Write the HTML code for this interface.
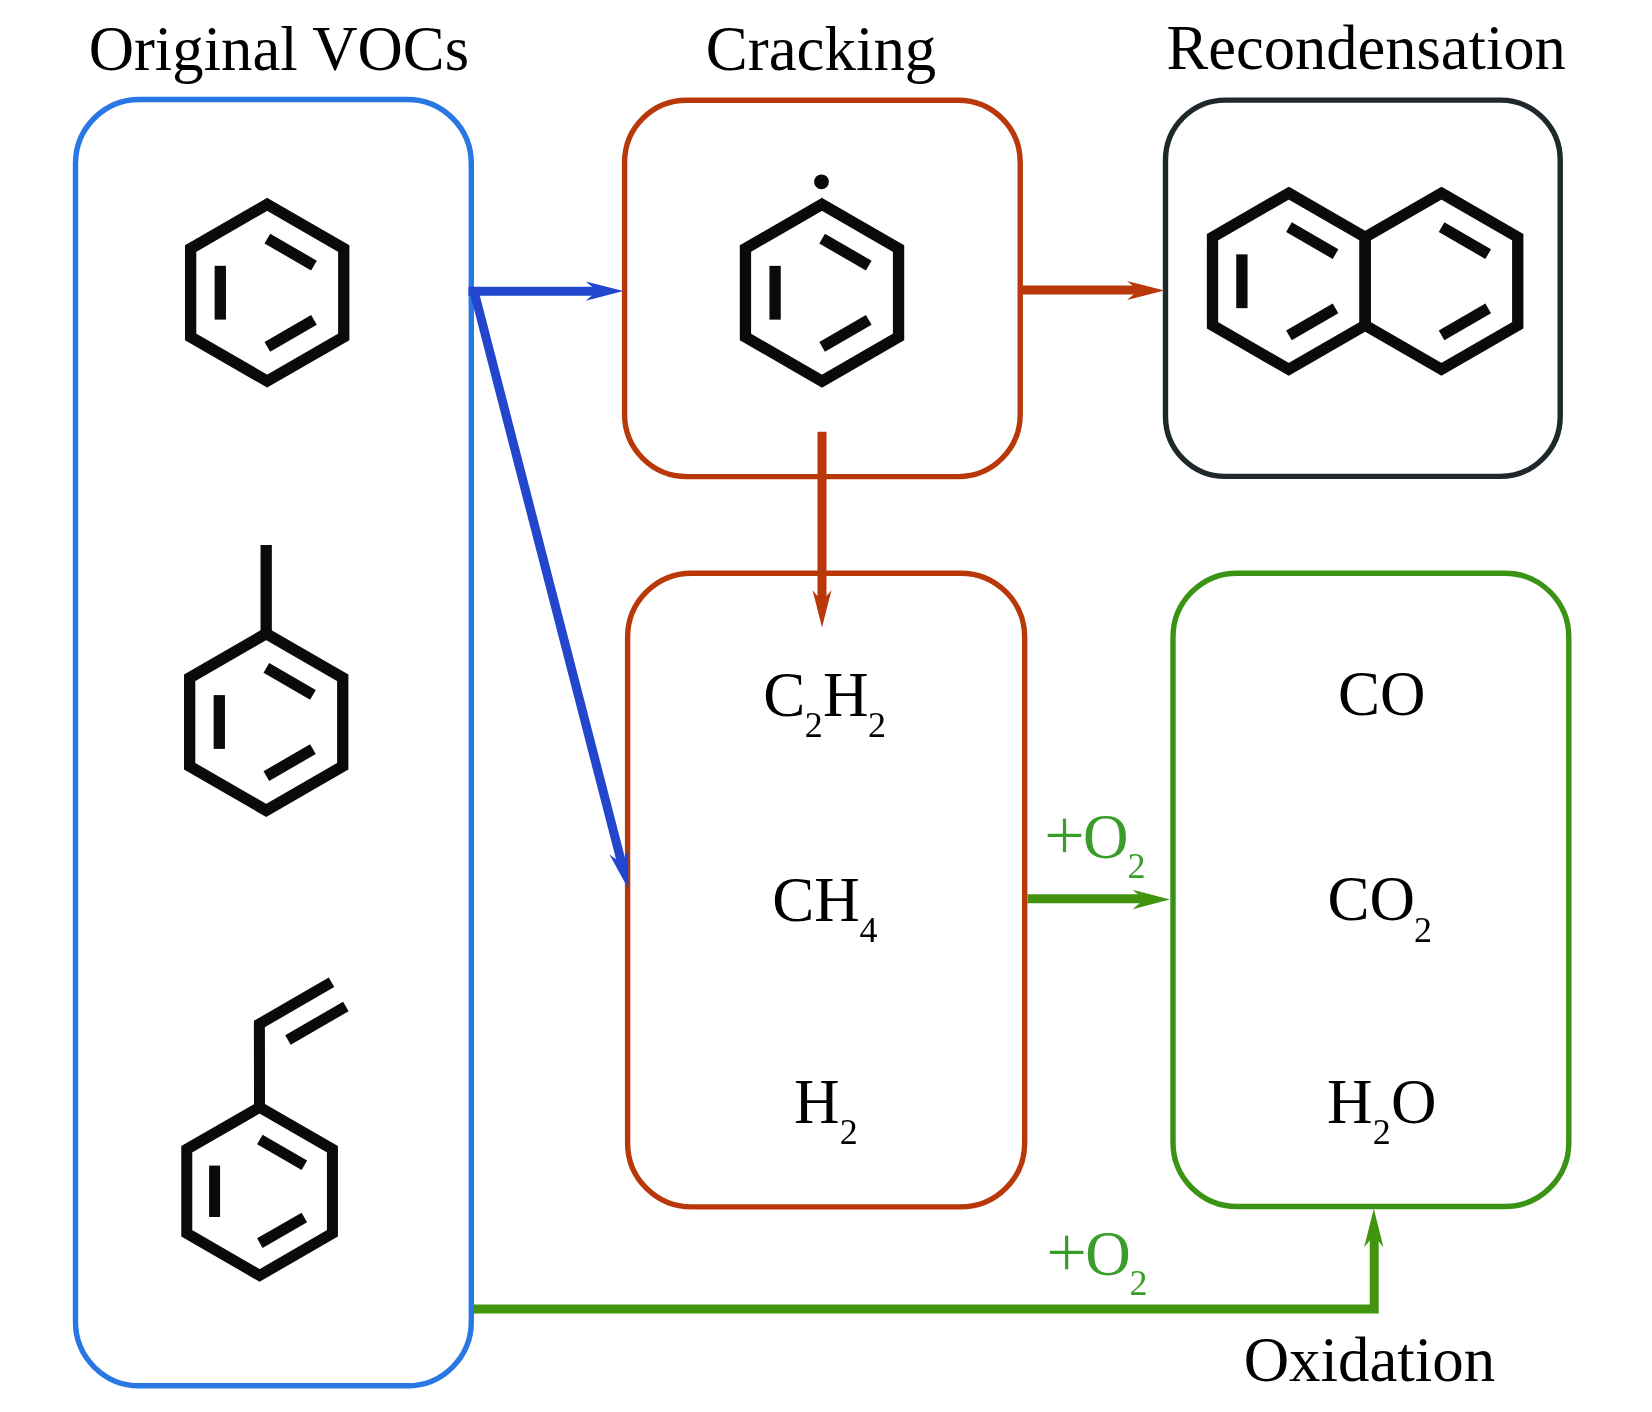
<!DOCTYPE html>
<html><head><meta charset="utf-8"><style>
html,body{margin:0;padding:0;background:#fff;width:1652px;height:1412px;overflow:hidden}
svg{display:block}
text{will-change:transform}
</style></head><body>
<svg width="1652" height="1412" viewBox="0 0 1652 1412">
<rect width="1652" height="1412" fill="#fff"/>
<rect x="75.5" y="99.5" width="395.8" height="1286.3" rx="64" ry="64" fill="none" stroke="#2877e3" stroke-width="5.4"/>
<rect x="624.6" y="100.2" width="395.6" height="376.4" rx="62" ry="62" fill="none" stroke="#b8380a" stroke-width="5.4"/>
<rect x="1165.5" y="100.1" width="394.7" height="376.3" rx="60" ry="60" fill="none" stroke="#1f292c" stroke-width="5.4"/>
<rect x="627.6" y="573.2" width="397.1" height="633.7" rx="64" ry="64" fill="none" stroke="#b8380a" stroke-width="5.4"/>
<rect x="1173" y="573.2" width="395.8" height="633.3" rx="64" ry="64" fill="none" stroke="#3a9314" stroke-width="5.4"/>
<line x1="468.5" y1="291.2" x2="605" y2="291.2" stroke="#2346cf" stroke-width="9.0"/>
<polygon points="623.5,291.1 585.7,300.8 597.2,291.1 585.7,281.4" fill="#2346cf"/>
<line x1="473.5" y1="289" x2="623.3" y2="869.43" stroke="#2346cf" stroke-width="9.0"/>
<polygon points="628.3,888.8 609.46,854.62 621.73,863.33 628.25,849.78" fill="#2346cf"/>
<line x1="1020" y1="290" x2="1145" y2="290" stroke="#b8380a" stroke-width="9.0"/>
<polygon points="1164.5,290.5 1127,300 1138.5,290.5 1127,281" fill="#b8380a"/>
<line x1="822" y1="431.7" x2="822" y2="607" stroke="#b8380a" stroke-width="9.0"/>
<polygon points="822,627.5 812.5,590 822,601.5 831.5,590" fill="#b8380a"/>
<line x1="1027.5" y1="898.8" x2="1150" y2="898.8" stroke="#42940e" stroke-width="9.0"/>
<polygon points="1170,899.5 1132.5,909.2 1144,899.5 1132.5,889.8" fill="#42940e"/>
<polyline points="473.8,1309 1374.2,1309 1374.2,1230" fill="none" stroke="#42940e" stroke-width="9.0" stroke-linejoin="miter"/>
<polygon points="1373.8,1208.8 1383.5,1247.3 1373.8,1235.8 1364.1,1247.3" fill="#42940e"/>
<polygon points="267.2,204.3 343.76,248.5 343.76,336.9 267.2,381.1 190.64,336.9 190.64,248.5" fill="none" stroke="#0a0a0a" stroke-width="11.3" stroke-linejoin="miter"/><line x1="220.3" y1="265.8" x2="220.3" y2="319.6" stroke="#0a0a0a" stroke-width="11.3" stroke-linecap="butt"/><line x1="313.95" y1="265.53" x2="267.35" y2="238.63" stroke="#0a0a0a" stroke-width="11.3" stroke-linecap="butt"/><line x1="267.35" y1="346.77" x2="313.95" y2="319.87" stroke="#0a0a0a" stroke-width="11.3" stroke-linecap="butt"/>
<polygon points="822,204.35 898.56,248.55 898.56,336.95 822,381.15 745.44,336.95 745.44,248.55" fill="none" stroke="#0a0a0a" stroke-width="11.3" stroke-linejoin="miter"/><line x1="775.1" y1="265.85" x2="775.1" y2="319.65" stroke="#0a0a0a" stroke-width="11.3" stroke-linecap="butt"/><line x1="868.75" y1="265.58" x2="822.15" y2="238.68" stroke="#0a0a0a" stroke-width="11.3" stroke-linecap="butt"/><line x1="822.15" y1="346.82" x2="868.75" y2="319.92" stroke="#0a0a0a" stroke-width="11.3" stroke-linecap="butt"/>
<circle cx="821.5" cy="181.8" r="7.4" fill="#0a0a0a"/>
<polygon points="266.2,633.6 342.76,677.8 342.76,766.2 266.2,810.4 189.64,766.2 189.64,677.8" fill="none" stroke="#0a0a0a" stroke-width="11.3" stroke-linejoin="miter"/><line x1="219.3" y1="695.1" x2="219.3" y2="748.9" stroke="#0a0a0a" stroke-width="11.3" stroke-linecap="butt"/><line x1="312.95" y1="694.83" x2="266.35" y2="667.93" stroke="#0a0a0a" stroke-width="11.3" stroke-linecap="butt"/><line x1="266.35" y1="776.07" x2="312.95" y2="749.17" stroke="#0a0a0a" stroke-width="11.3" stroke-linecap="butt"/>
<line x1="266.2" y1="633.6" x2="266.2" y2="544.9" stroke="#0a0a0a" stroke-width="11.3"/>
<polygon points="259.6,1107.2 332.43,1149.25 332.43,1233.35 259.6,1275.4 186.77,1233.35 186.77,1149.25" fill="none" stroke="#0a0a0a" stroke-width="11" stroke-linejoin="miter"/><line x1="214.6" y1="1165.6" x2="214.6" y2="1217" stroke="#0a0a0a" stroke-width="11" stroke-linecap="butt"/><line x1="304.36" y1="1165.18" x2="259.84" y2="1139.48" stroke="#0a0a0a" stroke-width="11" stroke-linecap="butt"/><line x1="259.84" y1="1243.12" x2="304.36" y2="1217.42" stroke="#0a0a0a" stroke-width="11" stroke-linecap="butt"/>
<polyline points="259.5,1107.2 259.4,1024 331.5,982.15" fill="none" stroke="#0a0a0a" stroke-width="11" stroke-linejoin="miter"/>
<line x1="287.95" y1="1040.05" x2="345.85" y2="1006.45" stroke="#0a0a0a" stroke-width="11"/>
<polygon points="1288.8,193.15 1365.1,237.2 1365.1,325.3 1288.8,369.35 1212.5,325.3 1212.5,237.2" fill="none" stroke="#0a0a0a" stroke-width="11.3" stroke-linejoin="miter"/><line x1="1241.9" y1="254.35" x2="1241.9" y2="308.15" stroke="#0a0a0a" stroke-width="11.3" stroke-linecap="butt"/><line x1="1335.55" y1="254.08" x2="1288.95" y2="227.18" stroke="#0a0a0a" stroke-width="11.3" stroke-linecap="butt"/><line x1="1288.95" y1="335.32" x2="1335.55" y2="308.42" stroke="#0a0a0a" stroke-width="11.3" stroke-linecap="butt"/>
<polygon points="1441.45,193.15 1517.75,237.2 1517.75,325.3 1441.45,369.35 1365.15,325.3 1365.15,237.2" fill="none" stroke="#0a0a0a" stroke-width="11.3" stroke-linejoin="miter"/><line x1="1488.2" y1="254.08" x2="1441.6" y2="227.18" stroke="#0a0a0a" stroke-width="11.3" stroke-linecap="butt"/><line x1="1441.6" y1="335.32" x2="1488.2" y2="308.42" stroke="#0a0a0a" stroke-width="11.3" stroke-linecap="butt"/>
<text x="88.7" y="70" font-family="'Liberation Serif', serif" font-size="63" fill="#000" textLength="380.4" lengthAdjust="spacingAndGlyphs">Original VOCs</text>
<text x="705.8" y="69.5" font-family="'Liberation Serif', serif" font-size="63" fill="#000" textLength="230.5" lengthAdjust="spacingAndGlyphs">Cracking</text>
<text x="1166.6" y="68.7" font-family="'Liberation Serif', serif" font-size="63" fill="#000" textLength="399.2" lengthAdjust="spacingAndGlyphs">Recondensation</text>
<text x="1243.7" y="1381" font-family="'Liberation Serif', serif" font-size="63" fill="#000" textLength="251.5" lengthAdjust="spacingAndGlyphs">Oxidation</text>
<text x="763.3" y="716" font-family="'Liberation Serif', serif" font-size="63" fill="#000">C</text>
<text x="804.7" y="737" font-family="'Liberation Serif', serif" font-size="36" fill="#000">2</text>
<text x="822.9" y="716" font-family="'Liberation Serif', serif" font-size="63" fill="#000">H</text>
<text x="867.9" y="737" font-family="'Liberation Serif', serif" font-size="36" fill="#000">2</text>
<text x="772.3" y="921" font-family="'Liberation Serif', serif" font-size="63" fill="#000">CH</text>
<text x="859.4" y="942" font-family="'Liberation Serif', serif" font-size="36" fill="#000">4</text>
<text x="794" y="1123" font-family="'Liberation Serif', serif" font-size="63" fill="#000">H</text>
<text x="839.7" y="1144" font-family="'Liberation Serif', serif" font-size="36" fill="#000">2</text>
<text x="1338" y="715" font-family="'Liberation Serif', serif" font-size="63" fill="#000">CO</text>
<text x="1327.5" y="919.8" font-family="'Liberation Serif', serif" font-size="63" fill="#000">CO</text>
<text x="1414" y="942" font-family="'Liberation Serif', serif" font-size="36" fill="#000">2</text>
<text x="1327" y="1123" font-family="'Liberation Serif', serif" font-size="63" fill="#000">H</text>
<text x="1372.7" y="1144" font-family="'Liberation Serif', serif" font-size="36" fill="#000">2</text>
<text x="1391" y="1123" font-family="'Liberation Serif', serif" font-size="63" fill="#000">O</text>
<line x1="1047.7" y1="835.4" x2="1081.3" y2="835.4" stroke="#3a9c2a" stroke-width="3.2"/><line x1="1064.5" y1="818.6" x2="1064.5" y2="852.2" stroke="#3a9c2a" stroke-width="3.2"/>
<text x="1083" y="857.5" font-family="'Liberation Serif', serif" font-size="63" fill="#3a9c2a">O</text>
<text x="1127.5" y="878" font-family="'Liberation Serif', serif" font-size="36" fill="#3a9c2a">2</text>
<line x1="1049.85" y1="1252.45" x2="1083.45" y2="1252.45" stroke="#3a9c2a" stroke-width="3.2"/><line x1="1066.65" y1="1235.65" x2="1066.65" y2="1269.25" stroke="#3a9c2a" stroke-width="3.2"/>
<text x="1085.2" y="1274.5" font-family="'Liberation Serif', serif" font-size="63" fill="#3a9c2a">O</text>
<text x="1129.4" y="1295" font-family="'Liberation Serif', serif" font-size="36" fill="#3a9c2a">2</text>
</svg>
</body></html>
